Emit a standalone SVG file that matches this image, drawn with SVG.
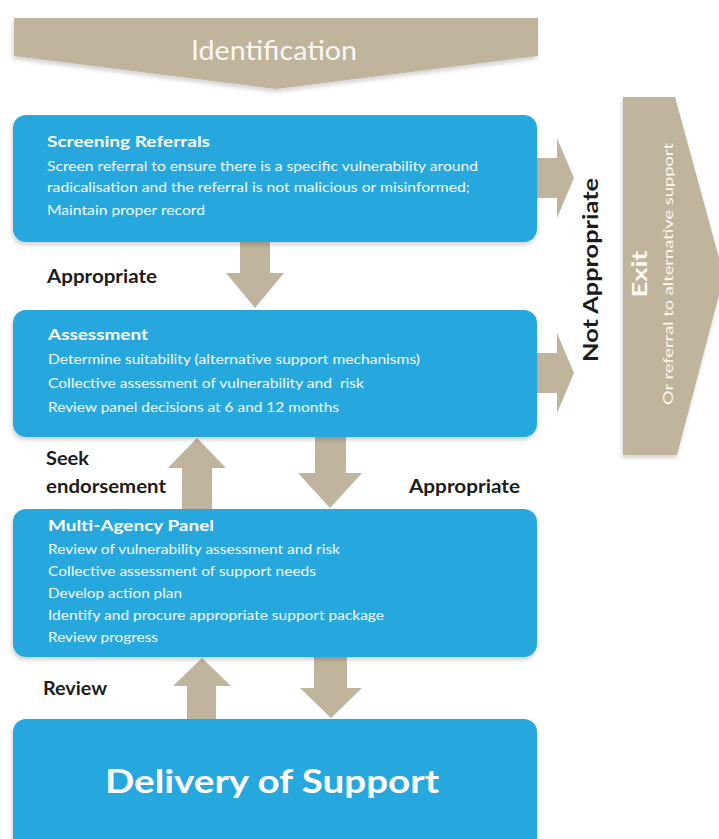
<svg xmlns="http://www.w3.org/2000/svg" width="719" height="839" viewBox="0 0 719 839">
<defs>
<filter id="sh" x="-5%" y="-5%" width="110%" height="115%">
<feDropShadow dx="-1" dy="3" stdDeviation="2" flood-color="#000" flood-opacity="0.18"/>
</filter>
<style>
.box{fill:#28a8df;filter:url(#sh)}
.arr{fill:#c0b49c}
.t{font-family:Lato,"Open Sans","Liberation Sans",sans-serif}
.hd{font-weight:700;font-size:15px;fill:#fff}
.ln{font-size:14px;fill:#f4fbff}
.lb{font-weight:700;font-size:19px;fill:#1c1c1c}
</style>
</defs>
<rect width="719" height="839" fill="#fff"/>

<g id="connectors">
<polygon class="arr" points="537,158 557,158 557,138 574,178 557,218 557,198 537,198"/>
<polygon class="arr" points="537,353 557,353 557,333 574,373 557,413 557,393 537,393"/>
<polygon class="arr" points="240,241 270,241 270,273 284,273 255,308 226,273 240,273"/>
<polygon class="arr" points="182,510 182,468 168,468 197,438 226,468 212,468 212,510"/>
<polygon class="arr" points="315,437 346,437 346,473 362,473 330,508 298,473 315,473"/>
<polygon class="arr" points="187,719 187,686 173,686 202,658 231,686 216,686 216,719"/>
<polygon class="arr" points="314,657 347,657 347,688 362,688 331,718 300,688 314,688"/>
<text class="t lb" x="47" y="283" textLength="110" lengthAdjust="spacingAndGlyphs">Appropriate</text>
<text class="t lb" x="46" y="465" textLength="43" lengthAdjust="spacingAndGlyphs">Seek</text>
<text class="t lb" x="46" y="493" textLength="120" lengthAdjust="spacingAndGlyphs">endorsement</text>
<text class="t lb" x="409" y="493" textLength="111" lengthAdjust="spacingAndGlyphs">Appropriate</text>
<text class="t lb" x="43" y="695" textLength="64" lengthAdjust="spacingAndGlyphs">Review</text>
<text class="t" transform="translate(598,270) rotate(-90)" text-anchor="middle" font-weight="700" font-size="21" fill="#1c1c1c" textLength="184" lengthAdjust="spacingAndGlyphs">Not Appropriate</text>
</g>

<g id="identification">
<polygon points="14,18 538,18 538,56 276,89 14,56" fill="#c0b49c" filter="url(#sh)"/>
<text class="t" x="274" y="60" text-anchor="middle" font-size="27" fill="#fbf8f2" textLength="166" lengthAdjust="spacingAndGlyphs">Identification</text>
</g>

<g id="exit">
<polygon points="623,97 675,97 724,276 677,455 623,455" fill="#c0b49c" filter="url(#sh)"/>
<text class="t" transform="translate(647,274) rotate(-90)" text-anchor="middle" font-weight="700" font-size="20" fill="#fbf8f2" textLength="47" lengthAdjust="spacingAndGlyphs">Exit</text>
<text class="t" transform="translate(673,274) rotate(-90)" text-anchor="middle" font-size="14" fill="#fbf8f2" textLength="262" lengthAdjust="spacingAndGlyphs">Or referral to alternative support</text>
</g>

<g id="screening">
<rect class="box" x="13" y="115" width="524" height="127" rx="13"/>
<text class="t hd" x="47" y="147" textLength="163" lengthAdjust="spacingAndGlyphs">Screening Referrals</text>
<text class="t ln" x="47" y="171" textLength="431" lengthAdjust="spacingAndGlyphs">Screen referral to ensure there is a specific vulnerability around</text>
<text class="t ln" x="47" y="192" textLength="423" lengthAdjust="spacingAndGlyphs">radicalisation and the referral is not malicious or misinformed;</text>
<text class="t ln" x="47" y="215" textLength="158" lengthAdjust="spacingAndGlyphs">Maintain proper record</text>
</g>

<g id="assessment">
<rect class="box" x="13" y="310" width="524" height="127" rx="13"/>
<text class="t hd" x="48" y="340" textLength="100" lengthAdjust="spacingAndGlyphs">Assessment</text>
<text class="t ln" x="48" y="364" textLength="372" lengthAdjust="spacingAndGlyphs">Determine suitability (alternative support mechanisms)</text>
<text class="t ln" x="48" y="388" textLength="316" lengthAdjust="spacingAndGlyphs" xml:space="preserve">Collective assessment of vulnerability and  risk</text>
<text class="t ln" x="48" y="412" textLength="291" lengthAdjust="spacingAndGlyphs">Review panel decisions at 6 and 12 months</text>
</g>

<g id="multi-agency">
<rect class="box" x="13" y="509" width="524" height="148" rx="13"/>
<text class="t hd" x="48" y="531" textLength="166" lengthAdjust="spacingAndGlyphs">Multi-Agency Panel</text>
<text class="t ln" x="48" y="554" textLength="292" lengthAdjust="spacingAndGlyphs">Review of vulnerability assessment and risk</text>
<text class="t ln" x="48" y="576" textLength="268" lengthAdjust="spacingAndGlyphs">Collective assessment of support needs</text>
<text class="t ln" x="48" y="598" textLength="134" lengthAdjust="spacingAndGlyphs">Develop action plan</text>
<text class="t ln" x="48" y="620" textLength="336" lengthAdjust="spacingAndGlyphs">Identify and procure appropriate support package</text>
<text class="t ln" x="48" y="642" textLength="110" lengthAdjust="spacingAndGlyphs">Review progress</text>
</g>

<g id="delivery">
<rect class="box" x="13" y="719" width="524" height="140" rx="13"/>
<text class="t" x="272" y="793" text-anchor="middle" font-weight="700" font-size="32" fill="#fff" textLength="334" lengthAdjust="spacingAndGlyphs">Delivery of Support</text>
</g>
</svg>
